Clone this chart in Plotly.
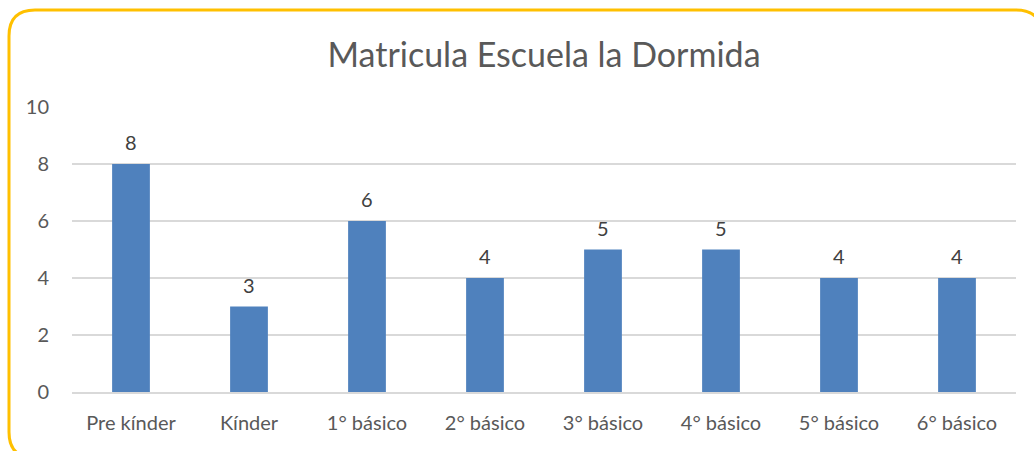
import plotly.graph_objects as go

# Chart data
categories = ["Pre kínder", "Kínder", "1° básico", "2° básico", "3° básico", "4° básico", "5° básico", "6° básico"]
matricula = [8, 3, 6, 4, 5, 5, 4, 4]
y_ticks = [0, 2, 4, 6, 8, 10]

W, H = 1034, 451
L, R, T, B = 72, 18, 107, 59
pw, ph = W - L - R, H - T - B
FONT = "Lato, Liberation Sans, sans-serif"


def px(x):
    return (x - L) / pw


def py(y):
    return (H - B - y) / ph


fig = go.Figure()

fig.add_trace(go.Bar(
    x=categories,
    y=matricula,
    marker=dict(color="#4F81BD", line=dict(width=0)),
    hoverinfo="x+y",
    showlegend=False,
))

# value labels above the bars
for c, v in zip(categories, matricula):
    fig.add_annotation(
        x=c, y=v, text=str(v), showarrow=False,
        yanchor="bottom", yshift=8,
        font=dict(size=20, color="#404040", family=FONT),
    )

# rounded chart border (runs past the right/bottom edges like the reference)
x0, x1, y0, y1, r = 9, 1042, 10, 458, 26
path = (
    f"M {px(x0)},{py(y0 + r)} "
    f"Q {px(x0)},{py(y0)} {px(x0 + r)},{py(y0)} "
    f"L {px(x1 - r)},{py(y0)} "
    f"Q {px(x1)},{py(y0)} {px(x1)},{py(y0 + r)} "
    f"L {px(x1)},{py(y1 - r)} "
    f"Q {px(x1)},{py(y1)} {px(x1 - r)},{py(y1)} "
    f"L {px(x0 + r)},{py(y1)} "
    f"Q {px(x0)},{py(y1)} {px(x0)},{py(y1 - r)} Z"
)
fig.add_shape(type="path", path=path, xref="paper", yref="paper",
              line=dict(color="#FFC000", width=3), layer="above")

fig.update_layout(
    width=W, height=H,
    margin=dict(l=L, r=R, t=T, b=B),
    title=dict(
        text="Matricula Escuela la Dormida",
        x=0.5, xref="paper", xanchor="center",
        y=1 - 55 / H, yanchor="middle",
        font=dict(size=34, color="#595959", family=FONT),
    ),
    bargap=0.68,
    plot_bgcolor="white",
    paper_bgcolor="white",
    font=dict(family=FONT, color="#595959", size=20),
    xaxis=dict(
        showgrid=False, zeroline=False, showline=True,
        linecolor="#D9D9D9", linewidth=1.5,
        ticks="", ticklabelstandoff=12,
        tickfont=dict(size=20, color="#595959"),
        fixedrange=True,
    ),
    yaxis=dict(
        range=[0, 10], tickvals=y_ticks,
        showgrid=True, gridcolor="#D9D9D9", gridwidth=1.5,
        zeroline=False, showline=False,
        ticks="", ticklabelstandoff=22,
        tickfont=dict(size=20, color="#595959"),
        fixedrange=True,
    ),
)

fig.write_html("out.html", config={"displayModeBar": False},
               post_script="document.body.style.margin='0';")
